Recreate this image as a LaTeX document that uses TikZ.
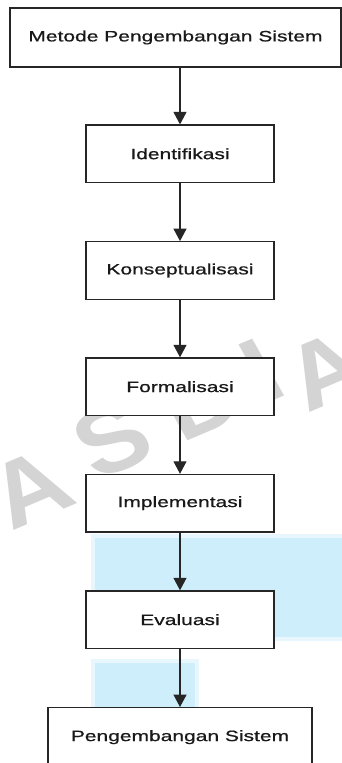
\documentclass[tikz,border=0pt]{standalone}
\usepackage{fontspec}
\usepackage{graphicx}
\setmainfont{Liberation Sans}
\newfontfamily\boxfont{Liberation Sans}[FakeBold=0.6]
\newfontfamily\wmfont{Liberation Sans Bold}
\usetikzlibrary{arrows.meta}
\definecolor{wmblue}{RGB}{205,238,250}
\definecolor{wmblueedge}{RGB}{232,247,253}
\definecolor{wmgray}{RGB}{212,212,212}
\newcommand\widetext[1]{\scalebox{1.4}[1]{#1}}
\tikzset{
  stepbox/.style={draw=black!85, fill=white, line width=1.3pt, inner sep=0pt,
    minimum width=188pt, minimum height=57.5pt,
    font=\boxfont\fontsize{15}{17}\selectfont, text=black!90},
  flow/.style={draw=black!85, line width=1.3pt,
    -{Triangle[width=13pt,length=12.5pt]}},
  wmletter/.style={text=wmgray, font=\wmfont\fontsize{92}{92}\selectfont,
    xscale=1.15, rotate=26, inner sep=0pt}
}
\begin{document}
\begin{tikzpicture}[x=1pt,y=-1pt]
  \useasboundingbox (0,0) rectangle (342,763);
  \clip (0,0) rectangle (342,763);
  \fill[white] (0,0) rectangle (342,763);

  % background watermark: light blue panels
  \fill[wmblueedge] (91,534) rectangle (342,641);
  \fill[wmblue] (95,538) rectangle (342,637);
  \fill[wmblueedge] (91,659) rectangle (199,763);
  \fill[wmblue] (95,663) rectangle (195,763);

  % background watermark: rotated grey lettering
  \node[wmletter] at (30,488) {A};
  \node[wmletter] at (112,440) {S};
  \node[wmletter] at (200,400) {D};
  \node[wmletter] at (262,370) {I};
  \node[wmletter] at (326,370) {A};

  % process steps
  \node[stepbox, minimum width=331pt, minimum height=59pt] (metode) at (175.5,37.5)
    {\widetext{Metode Pengembangan Sistem}};
  \node[stepbox] (ident) at (180,153.8) {\widetext{Identifikasi}};
  \node[stepbox] (konsep) at (180,270.5) {\widetext{Konseptualisasi}};
  \node[stepbox] (formal) at (180,386.7) {\widetext{Formalisasi}};
  \node[stepbox] (impl) at (180,503.2) {\widetext{Implementasi}};
  \node[stepbox] (eval) at (180,619.7) {\widetext{Evaluasi}};
  \node[stepbox, minimum width=264pt, minimum height=59pt] (hasil) at (180,737.2)
    {\widetext{Pengembangan Sistem}};

  % connectors
  \draw[flow] (metode.south -| ident.north) -- (ident.north);
  \draw[flow] (ident) -- (konsep);
  \draw[flow] (konsep) -- (formal);
  \draw[flow] (formal) -- (impl);
  \draw[flow] (impl) -- (eval);
  \draw[flow] (eval) -- (hasil);
\end{tikzpicture}
\end{document}
